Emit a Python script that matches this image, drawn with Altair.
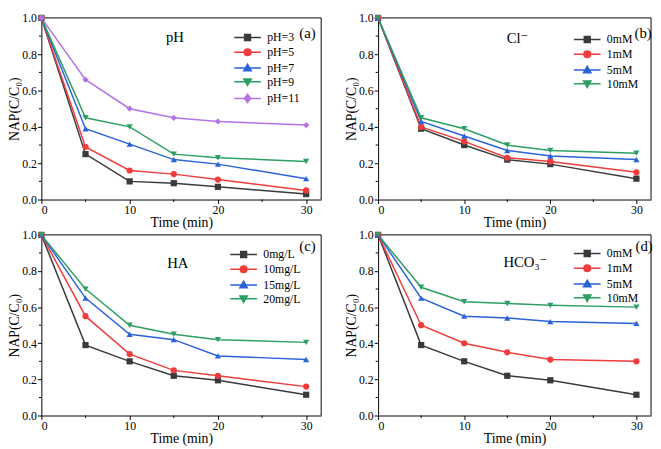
import altair as alt
import pandas as pd

FONT = "Liberation Serif, DejaVu Serif, serif"

time_min = [0, 5, 10, 15, 20, 30]

# (a) pH
ph_labels = ["pH=3", "pH=5", "pH=7", "pH=9", "pH=11"]
ph3 = [1.0, 0.25, 0.10, 0.09, 0.07, 0.03]
ph5 = [1.0, 0.29, 0.16, 0.14, 0.11, 0.05]
ph7 = [1.0, 0.39, 0.305, 0.22, 0.195, 0.115]
ph9 = [1.0, 0.45, 0.40, 0.25, 0.23, 0.21]
ph11 = [1.0, 0.66, 0.50, 0.45, 0.43, 0.41]

# (b) Cl-
cl_labels = ["0mM", "1mM", "5mM", "10mM"]
cl0 = [1.0, 0.39, 0.30, 0.22, 0.195, 0.115]
cl1 = [1.0, 0.40, 0.32, 0.23, 0.21, 0.15]
cl5 = [1.0, 0.43, 0.35, 0.27, 0.24, 0.22]
cl10 = [1.0, 0.45, 0.39, 0.30, 0.27, 0.255]

# (c) HA
ha_labels = ["0mg/L", "10mg/L", "15mg/L", "20mg/L"]
ha0 = [1.0, 0.39, 0.30, 0.22, 0.195, 0.115]
ha10 = [1.0, 0.55, 0.34, 0.25, 0.22, 0.16]
ha15 = [1.0, 0.65, 0.45, 0.42, 0.33, 0.31]
ha20 = [1.0, 0.70, 0.50, 0.45, 0.42, 0.405]

# (d) HCO3-
hc_labels = ["0mM", "1mM", "5mM", "10mM"]
hc0 = [1.0, 0.39, 0.30, 0.22, 0.195, 0.115]
hc1 = [1.0, 0.50, 0.40, 0.35, 0.31, 0.30]
hc5 = [1.0, 0.65, 0.55, 0.54, 0.52, 0.51]
hc10 = [1.0, 0.71, 0.63, 0.62, 0.61, 0.60]

x_major = [0, 10, 20, 30]
x_minor = [5, 15, 25]
y_major = [0.0, 0.2, 0.4, 0.6, 0.8, 1.0]
y_minor = [0.1, 0.3, 0.5, 0.7, 0.9]
X_MAX = 31.7
Y_MAX = 1.0

COLORS = ["#3a3a3a", "#f03c3c", "#2b62d9", "#2e9f62", "#b473e3"]
SHAPES = ["square", "circle", "triangle-up", "triangle-down", "diamond"]
LINE = "M-3.4,0H3.4"
LEG_SHAPES = [
    LINE + "M-0.75,-0.75H0.75V0.75H-0.75Z",
    LINE + "M-0.85,0A0.85,0.85 0 1,0 0.85,0A0.85,0.85 0 1,0 -0.85,0Z",
    LINE + "M0,-0.95L0.95,0.7H-0.95Z",
    LINE + "M0,0.95L0.95,-0.7H-0.95Z",
    LINE + "M0,-1.05L0.8,0L0,1.05L-0.8,0Z",
]

AXSTYLE = dict(labelFont=FONT, labelFontSize=12, labelColor="black",
               titleFont=FONT, titleFontSize=14, titleFontWeight="normal",
               titleColor="black", domainColor="black", domainWidth=1,
               ticks=True, tickSize=4, tickColor="black", tickWidth=1,
               grid=False, labelOverlap=False)


def make_df(labels, series):
    rows = []
    for lab, vals in zip(labels, series):
        for t, c in zip(time_min, vals):
            rows.append({"t": t, "c": c, "s": lab})
    return pd.DataFrame(rows)


def panel(labels, series, w, h, tag, name, name_x, name_y, tag_x, tag_y, leg_x, leg_y):
    n = len(labels)
    df = make_df(labels, series)
    cols = COLORS[:n]
    xs = alt.Scale(domain=[0, X_MAX], nice=False, zero=False)
    ys = alt.Scale(domain=[0, Y_MAX], nice=False, zero=False)
    xax = alt.Axis(values=x_major, title="Time (min)", labelPadding=1, titlePadding=0, **AXSTYLE)
    yax = alt.Axis(values=y_major, format=".1f", title="NAP(C/C₀)", labelPadding=1,
                   titlePadding=0, **AXSTYLE)
    X = alt.X("t:Q", scale=xs, axis=xax)
    Y = alt.Y("c:Q", scale=ys, axis=yax)
    base = alt.Chart(df)
    frame = alt.Chart(pd.DataFrame({"t": [0, X_MAX, X_MAX], "c": [Y_MAX, Y_MAX, 0], "o": [0, 1, 2]})).mark_line(
        color="black", strokeWidth=1, clip=False).encode(x=X, y=Y, order="o:Q")
    lines = base.mark_line(strokeWidth=1.5, clip=False).encode(
        x=X, y=Y,
        color=alt.Color("s:N", scale=alt.Scale(domain=labels, range=cols), legend=None),
    )
    pts = base.mark_point(filled=True, size=40, opacity=1, clip=False).encode(
        x=X, y=Y,
        color=alt.Color("s:N", scale=alt.Scale(domain=labels, range=cols), legend=None),
        shape=alt.Shape("s:N", scale=alt.Scale(domain=labels, range=SHAPES[:n]), legend=None),
    )
    leg = alt.Legend(orient="none", legendX=leg_x, legendY=leg_y, title=None,
                     labelFont=FONT, labelFontSize=12, labelColor="black",
                     symbolSize=64, symbolStrokeWidth=1.5, labelOffset=14,
                     rowPadding=2, padding=0)
    legl = base.transform_filter("datum.t < 0").mark_point(
        filled=True, opacity=1, strokeWidth=1.5, clip=False).encode(
        x=X, y=Y,
        color=alt.Color("s:N", scale=alt.Scale(domain=labels, range=cols), legend=leg),
        stroke=alt.Stroke("s:N", scale=alt.Scale(domain=labels, range=cols), legend=leg),
        shape=alt.Shape("s:N", scale=alt.Scale(domain=labels, range=LEG_SHAPES[:n]), legend=leg),
    )
    xmin = alt.Chart(pd.DataFrame({"t": x_minor})).mark_rule(color="black", strokeWidth=1, clip=False).encode(
        x=X, y=alt.value(h), y2=alt.value(h + 2.5))
    ymin = alt.Chart(pd.DataFrame({"c": y_minor})).mark_rule(color="black", strokeWidth=1, clip=False).encode(
        y=Y, x=alt.value(0), x2=alt.value(-2.5))
    t1 = alt.Chart(pd.DataFrame({"lab": [name]})).mark_text(
        font=FONT, fontSize=15, color="black", align="center", baseline="middle", clip=False).encode(
        x=alt.value(name_x), y=alt.value(name_y), text="lab:N")
    t2 = alt.Chart(pd.DataFrame({"lab": [tag]})).mark_text(
        font=FONT, fontSize=15, color="black", align="center", baseline="middle", clip=False).encode(
        x=alt.value(tag_x), y=alt.value(tag_y), text="lab:N")
    return alt.layer(lines, frame, pts, legl, xmin, ymin, t1, t2).resolve_scale(
        color="independent", shape="independent", stroke="independent"
    ).properties(width=w, height=h)


H1 = 185
H2 = 184
W1 = 285
W2 = 278

pa = panel(ph_labels, [ph3, ph5, ph7, ph9, ph11], W1, H1, "(a)", "pH", 136, 20, 271, 15, 204, 14)
pb = panel(cl_labels, [cl0, cl1, cl5, cl10], W2, H1, "(b)", "Cl⁻", 142, 21, 270, 15, 207, 16)
pc = panel(ha_labels, [ha0, ha10, ha15, ha20], W1, H2, "(c)", "HA", 139, 29, 271, 11, 200, 14)
pd_ = panel(hc_labels, [hc0, hc1, hc5, hc10], W2, H2, "(d)", "HCO₃⁻", 150, 28, 271, 11, 207, 13)

chart = alt.concat(pa, pb, pc, pd_, columns=2, spacing={"row": 0, "column": 22}).properties(
    padding=0
).configure_view(stroke=None)

chart.save("out.html", embed_options={"renderer": "svg", "actions": False})
